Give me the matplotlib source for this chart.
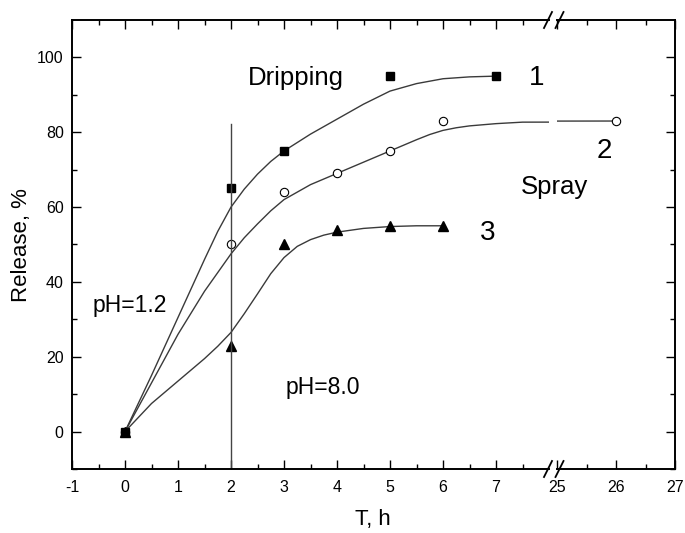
import numpy as np
import matplotlib
matplotlib.use('Agg')
import matplotlib.pyplot as plt
from matplotlib.lines import Line2D

plt.rcParams['font.family'] = ['Liberation Sans', 'DejaVu Sans']
plt.rcParams['axes.unicode_minus'] = False

# measured points
t_drip = [0, 2, 3, 5, 7]
r_drip = [0, 65, 75, 95, 95]
t_spray = [0, 2, 3, 4, 5, 6, 26]
r_spray = [0, 50, 64, 69, 75, 83, 83]
t_ph8 = [0, 2, 3, 4, 5, 6]
r_ph8 = [0, 23, 50, 54, 55, 55]

# fitted curves
fit1_t = [0, 0.5, 1, 1.5, 1.75, 2, 2.25, 2.5, 2.75, 3, 3.5, 4, 4.5, 5, 5.5, 6, 6.5, 7]
fit1_r = [0, 15, 30.5, 46, 53.5, 60, 64.8, 68.8, 72.2, 75, 79.5, 83.5, 87.5, 91, 93, 94.3, 94.8, 95]
fit2_t = [0, 0.5, 1, 1.5, 2, 2.25, 2.5, 2.75, 3, 3.5, 4, 4.5, 5, 5.5, 5.75, 6, 6.25, 6.5, 7, 7.5, 26]
fit2_r = [0, 13, 26, 37.5, 47.5, 51.8, 55.5, 59, 62, 66, 69, 72, 75, 78, 79.4, 80.5, 81.2, 81.7, 82.3, 82.7, 83]
fit3_t = [0, 0.5, 1, 1.5, 1.75, 2, 2.25, 2.5, 2.75, 3, 3.25, 3.5, 3.75, 4, 4.5, 5, 5.5, 6]
fit3_r = [0, 7.5, 13.5, 19.5, 22.8, 26.5, 31.5, 36.8, 42.2, 46.5, 49.5, 51.3, 52.5, 53.3, 54.3, 54.8, 55, 55]

W, H = 685, 533
fig = plt.figure(figsize=(W / 100, H / 100), dpi=100)
bot = 1 - 469 / H
hgt = (469 - 20) / H
ax1 = fig.add_axes([72 / W, bot, 477 / W, hgt])
ax2 = fig.add_axes([557 / W, bot, 118 / W, hgt], sharey=ax1)
ax2.patch.set_visible(False)

lc = '#3a3a3a'
for ax in (ax1, ax2):
    ax.plot(fit1_t, fit1_r, color=lc, lw=1.0)
    ax.plot(fit2_t, fit2_r, color=lc, lw=1.0)
    ax.plot(fit3_t, fit3_r, color=lc, lw=1.0)
    ax.plot(t_ph8, r_ph8, ls='none', marker='^', ms=7.5, color='black')
    ax.plot(t_spray, r_spray, ls='none', marker='o', ms=6, mfc='white', mec='black', mew=0.8)
    ax.plot(t_drip, r_drip, ls='none', marker='s', ms=6, color='black')
    for s in ax.spines.values():
        s.set_linewidth(1.4)
    ax.tick_params(which='both', direction='in', width=1.0, labelsize=11.5)
    ax.tick_params(which='major', length=6.5)
    ax.tick_params(which='minor', length=3.6)

# pH switch at 2 h
ax1.plot([2, 2], [-10, 82.2], color='#444444', lw=1.0)

ax1.set_xlim(-1, 8)
ax1.set_ylim(-10, 110)
ax1.set_xticks(range(-1, 8))
ax1.set_xticks(np.arange(-0.5, 8, 1), minor=True)
ax1.set_yticks(range(0, 101, 20))
ax1.set_yticks(range(-10, 110, 20), minor=True)
ax1.spines['right'].set_visible(False)
ax1.tick_params(which='both', top=True, right=False, pad=8)
ax1.tick_params(axis='y', which='both', pad=6)

ax2.set_xlim(25, 27)
ax2.set_xticks([25, 26, 27])
ax2.set_xticks([25.5, 26.5], minor=True)
ax2.spines['left'].set_visible(False)
ax2.tick_params(which='both', top=True, right=True, left=False, labelleft=False, pad=8)

# text labels
ax1.text(3.23, 94.6, 'Dripping', fontsize=18.5, ha='center', va='center')
ax1.text(7.77, 94.6, '1', fontsize=20, ha='center', va='center')
ax1.text(6.85, 53, '3', fontsize=20, ha='center', va='center')
ax2.text(25.8, 75, '2', fontsize=20, ha='center', va='center')
ax1.text(8.11, 65.5, 'Spray', fontsize=18.5, ha='center', va='center', clip_on=False)
ax1.text(0.09, 33.8, 'pH=1.2', fontsize=16.5, ha='center', va='center')
ax1.text(3.74, 11.9, 'pH=8.0', fontsize=16.5, ha='center', va='center')

fig.text(22 / W, 1 - 245 / H, 'Release, %', fontsize=16, rotation=90, ha='center', va='center')
fig.text(373 / W, 1 - 520 / H, 'T, h', fontsize=16, ha='center', va='center')

# axis break marks
for yc in (20, 469):
    for xc in (548, 559.5):
        fig.add_artist(Line2D([(xc - 4) / W, (xc + 4) / W],
                              [1 - (yc + 8) / H, 1 - (yc - 8) / H],
                              color='black', lw=1.3))

fig.savefig('out.png', dpi=100)
